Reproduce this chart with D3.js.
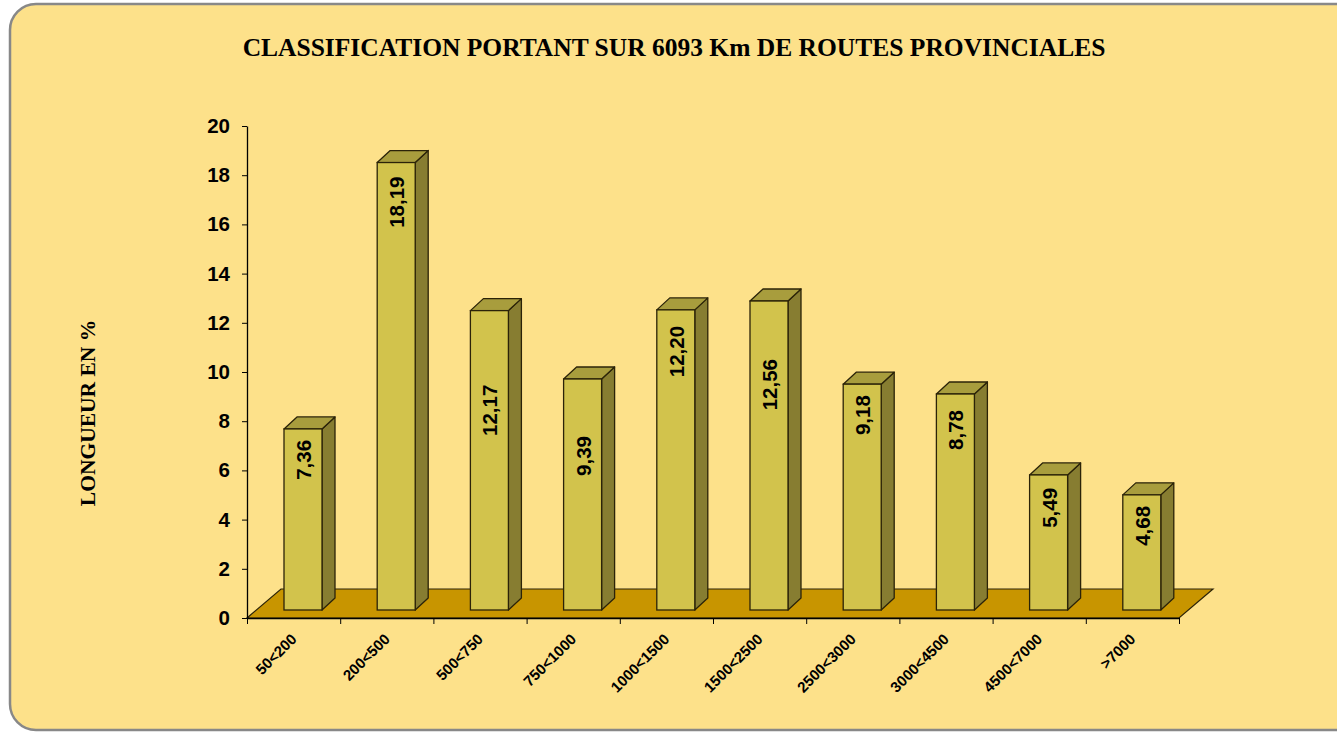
<!DOCTYPE html>
<html>
<head>
<meta charset="utf-8">
<script src="https://cdn.jsdelivr.net/npm/d3@7"></script>
<style>
  body { margin: 0; background: #fff; }
  svg { display: block; }
</style>
</head>
<body>
<div id="chart"></div>
<script>
// data
const categories = ['50<200', '200<500', '500<750', '750<1000', '1000<1500', '1500<2500', '2500<3000', '3000<4500', '4500<7000', '>7000'];
const values = [7.36, 18.19, 12.17, 9.39, 12.20, 12.56, 9.18, 8.78, 5.49, 4.68];
const yTicks = [0, 2, 4, 6, 8, 10, 12, 14, 16, 18, 20];
const title = 'CLASSIFICATION PORTANT SUR 6093 Km DE ROUTES PROVINCIALES';
const yTitle = 'LONGUEUR EN %';

const W = 1337, H = 732;
const svg = d3.select('#chart').append('svg')
    .attr('width', W)
    .attr('height', H);

// outer panel
svg.append('rect')
    .attr('x', 10).attr('y', 4)
    .attr('width', 1360).attr('height', 726)
    .attr('rx', 26).attr('ry', 26)
    .attr('fill', '#fde18a')
    .attr('stroke', '#888')
    .attr('stroke-width', 2.5);

svg.append('text')
    .attr('x', 674).attr('y', 56)
    .attr('text-anchor', 'middle')
    .style('font-family', '"Liberation Serif", "Times New Roman", serif')
    .style('font-weight', 'bold')
    .style('font-size', '25.5px')
    .text(title);

svg.append('text')
    .attr('transform', 'translate(95,413) rotate(-90)')
    .attr('text-anchor', 'middle')
    .style('font-family', '"Liberation Serif", "Times New Roman", serif')
    .style('font-weight', 'bold')
    .style('font-size', '21.5px')
    .text(yTitle);

const x0 = 247, x1 = 1179;
const xScale = d3.scaleBand()
    .domain(categories)
    .range([x0, x1])
    .padding(0);
const yScale = d3.scaleLinear()
    .domain([0, 20])
    .range([618, 126]);

const depth = {x: 34, y: -29};   // floor depth
const off = {x: 10, y: -8};      // bar placed a bit into the floor
const side = {x: 13, y: -12};    // bar thickness
const barW = 38;

// floor
const fy = yScale(0);
svg.append('polygon')
    .attr('points', [[x0, fy], [x1, fy], [x1 + depth.x, fy + depth.y], [x0 + depth.x, fy + depth.y]].join(' '))
    .attr('fill', '#c89500')
    .attr('stroke', '#2b2308')
    .attr('stroke-width', 1.2);

// axes
const yAxis = svg.append('g')
    .attr('transform', `translate(${x0},0)`)
    .call(d3.axisLeft(yScale).tickValues(yTicks).tickSize(5).tickSizeOuter(0).tickPadding(12));
yAxis.selectAll('text')
    .style('font-family', 'Arial, "Liberation Sans", sans-serif')
    .style('font-weight', 'bold')
    .style('font-size', '20.5px')
    .attr('fill', '#000');
yAxis.select('.domain').attr('stroke', '#000').attr('stroke-width', 1.3);

const xb = d3.scaleLinear().domain([0, categories.length]).range([x0, x1]);
const xAxis = svg.append('g')
    .attr('transform', `translate(0,${fy})`)
    .call(d3.axisBottom(xb).tickValues(d3.range(categories.length + 1)).tickFormat('').tickSize(6).tickSizeOuter(0));
xAxis.select('.domain').attr('stroke', '#000').attr('stroke-width', 1.3);

svg.append('g').selectAll('text')
    .data(categories)
    .join('text')
    .attr('transform', d => `translate(${xScale(d) + xScale.bandwidth() / 2 + 4},${fy + 22}) rotate(-45)`)
    .attr('text-anchor', 'end')
    .style('font-family', 'Arial, "Liberation Sans", sans-serif')
    .style('font-weight', 'bold')
    .style('font-size', '15px')
    .text(d => d);

// bars
const bars = svg.append('g').selectAll('g')
    .data(categories.map((c, i) => ({cat: c, v: values[i], i: i})))
    .join('g');

const barLeft = d => xScale(d.cat) + 27 + off.x;
const base = fy + off.y;
const barTop = d => base - (fy - yScale(d.v));

bars.append('polygon')   // side
    .attr('points', d => {
        const l = barLeft(d) + barW, t = barTop(d);
        return [[l, base], [l, t], [l + side.x, t + side.y], [l + side.x, base + side.y]].join(' ');
    })
    .attr('fill', '#877d31')
    .attr('stroke', '#2b2308').attr('stroke-width', 1.3).attr('stroke-linejoin', 'round');

bars.append('polygon')   // top
    .attr('points', d => {
        const l = barLeft(d), t = barTop(d);
        return [[l, t], [l + barW, t], [l + barW + side.x, t + side.y], [l + side.x, t + side.y]].join(' ');
    })
    .attr('fill', '#a89d3d')
    .attr('stroke', '#2b2308').attr('stroke-width', 1.3).attr('stroke-linejoin', 'round');

bars.append('rect')      // front
    .attr('x', d => barLeft(d))
    .attr('y', d => barTop(d))
    .attr('width', barW)
    .attr('height', d => base - barTop(d))
    .attr('fill', '#d2c34c')
    .attr('stroke', '#2b2308').attr('stroke-width', 1.3);

// value labels were nudged by hand in the original, gap below bar top in px
const labelGap = [11, 14, 74, 57, 16, 58, 11, 16, 13, 11];
const fmt = v => d3.format('.2f')(v).replace('.', ',');
bars.append('text')
    .attr('transform', d => `translate(${barLeft(d) + barW / 2 + 8},${barTop(d) + labelGap[d.i]}) rotate(-90)`)
    .attr('text-anchor', 'end')
    .style('font-family', 'Arial, "Liberation Sans", sans-serif')
    .style('font-weight', 'bold')
    .style('font-size', '20.5px')
    .text(d => fmt(d.v));
</script>
</body>
</html>
